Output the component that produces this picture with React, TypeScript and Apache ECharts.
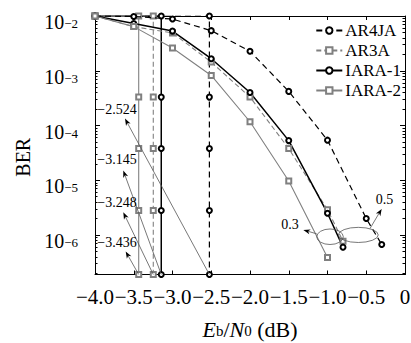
import React, { useEffect, useRef } from "react";
import * as echarts from "echarts";

const FONT = "'Liberation Serif', 'Times New Roman', serif";

// axis ranges
const xMin = -4.0;
const xMax = 0;
const xStep = 0.5;
const berMin = 1.9e-7;
const berMax = 1e-2;

// simulated curves
const ar4jaSnr = [-4.0, -3.5, -3.0, -2.5, -2.0, -1.5, -1.0, -0.5, -0.3];
const ar4jaBer = [1.0e-2, 9.8e-3, 8.8e-3, 5.4e-3, 2.27e-3, 4.2e-4, 5.4e-5, 2.0e-6, 6.7e-7];
const ar3aSnr = [-4.0, -3.5, -3.0, -2.5, -2.0, -1.5, -1.0, -0.8];
const ar3aBer = [1.0e-2, 6.4e-3, 4.9e-3, 1.44e-3, 3.3e-4, 3.8e-5, 2.9e-6, 7.7e-7];
const iara1Snr = [-4.0, -3.5, -3.0, -2.5, -2.0, -1.5, -1.0, -0.8];
const iara1Ber = [1.0e-2, 7.3e-3, 5.3e-3, 1.66e-3, 4.0e-4, 5.3e-5, 2.5e-6, 6.0e-7];
const iara2Snr = [-4.0, -3.5, -3.0, -2.5, -2.0, -1.5, -1.0];
const iara2Ber = [1.0e-2, 6.4e-3, 2.6e-3, 8.2e-4, 1.17e-4, 9.7e-6, 3.9e-7];

// thresholds (order: AR4JA, IARA-1, AR3A, IARA-2)
const thresholds = [-2.524, -3.145, -3.248, -3.436];
const thresholdMarkBer = [1e-2, 3.3e-4, 3.8e-5, 2.8e-6];
const thrLabelSnr = [-3.97, -3.97, -3.97, -3.97];
const thrLabelBer = [1.95e-4, 2.37e-5, 4.0e-6, 7.3e-7];
const thrHeadSnr = [-3.613, -3.635, -3.635, -3.604];
const thrHeadBer = [1.34e-4, 1.5e-5, 2.6e-6, 5.0e-7];

// rate annotations
const rateLabels = ["0.3", "0.5"];
const rateEllLeft = [-1.139, -0.861];
const rateEllRight = [-0.796, -0.345];
const rateEllLow = [6.7e-7, 7.3e-7];
const rateEllHigh = [1.29e-6, 1.38e-6];
const rateFromSnr = [-1.139, -0.452];
const rateFromBer = [1.05e-6, 1.31e-6];
const rateToSnr = [-1.312, -0.301];
const rateToBer = [1.24e-6, 3.0e-6];
const rateLabelSnr = [-1.484, -0.265];
const rateLabelBer = [1.55e-6, 4.5e-6];

const names = ["AR4JA", "AR3A", "IARA-1", "IARA-2"];
const BLACK = "#000000";
const GRAY = "#808080";

const fmtMinus = (s: string) => s.replace("-", "\u2212");

function lineSeries(name: string, xs: number[], ys: number[], color: string, dash: any, width: number, symbol: string) {
  return {
    name,
    type: "line",
    data: xs.map((x, i) => [x, ys[i]]),
    symbol,
    symbolSize: 5,
    showSymbol: true,
    lineStyle: { color, width, type: dash },
    itemStyle: { color, borderColor: color, borderWidth: 0.9 },
    emphasis: { disabled: true },
    silent: true,
    z: 3,
  };
}

function thresholdSeries(name: string, t: number, color: string, dash: any, width: number, symbol: string) {
  const pts: number[][] = [[xMin, thresholdMarkBer[0]]];
  thresholdMarkBer.forEach((b) => pts.push([t, b]));
  pts.push([t, berMin]);
  return {
    name,
    type: "line",
    data: pts,
    symbol,
    symbolSize: 5,
    showSymbol: true,
    lineStyle: { color, width, type: dash },
    itemStyle: { color, borderColor: color, borderWidth: 0.9 },
    emphasis: { disabled: true },
    silent: true,
    z: 2,
  };
}

function arrow(p0: number[], p1: number[]) {
  const dx = p1[0] - p0[0];
  const dy = p1[1] - p0[1];
  const len = Math.hypot(dx, dy) || 1;
  const ux = dx / len;
  const uy = dy / len;
  const hl = 7;
  const hw = 2.6;
  const bx = p1[0] - ux * hl;
  const by = p1[1] - uy * hl;
  return [
    { type: "line", shape: { x1: p0[0], y1: p0[1], x2: bx + ux * 2, y2: by + uy * 2 }, style: { stroke: "#555", lineWidth: 0.8 } },
    {
      type: "polygon",
      shape: { points: [[p1[0], p1[1]], [bx - uy * hw, by + ux * hw], [bx + ux * 2, by + uy * 2], [bx + uy * hw, by - ux * hw]] },
      style: { fill: "#000" },
    },
  ];
}

const option: any = {
  animation: false,
  backgroundColor: "#fff",
  grid: { left: 95, right: 6, top: 16, bottom: 68.5, containLabel: false, outerBoundsMode: "none" },
  legend: {
    data: names,
    orient: "vertical",
    right: 10,
    top: 22,
    padding: 0,
    itemGap: 3,
    itemWidth: 26,
    itemHeight: 8,
    selectedMode: false,
    textStyle: { fontFamily: FONT, fontSize: 17, color: "#000", padding: [0, 0, 0, -2] },
  },
  xAxis: [
    {
      type: "value",
      min: xMin,
      max: xMax,
      interval: xStep,
      position: "bottom",
      name: "{i|E}{sub|b}{r|/}{i|N}{sub|0}{r| (dB)}",
      nameLocation: "middle",
      nameGap: 46,
      nameMoveOverlap: false,
      nameTextStyle: {
        rich: {
          i: { fontFamily: FONT, fontSize: 22, fontStyle: "italic", color: "#000", lineHeight: 18 },
          r: { fontFamily: FONT, fontSize: 22, color: "#000", lineHeight: 18 },
          sub: { fontFamily: FONT, fontSize: 15, color: "#000", lineHeight: 12, verticalAlign: "bottom" },
        },
      },
      axisLine: { show: true, onZero: false, lineStyle: { color: "#000", width: 1 } },
      axisTick: { show: true, inside: true, length: 4, lineStyle: { color: "#000" } },
      axisLabel: {
        show: true,
        margin: 12,
        fontFamily: FONT,
        fontSize: 21,
        color: "#000",
        hideOverlap: false,
        formatter: (v: number) => (Math.abs(v) < 1e-9 ? "0" : fmtMinus(v.toFixed(1))),
      },
      splitLine: { show: false },
    },
    {
      type: "value",
      min: xMin,
      max: xMax,
      interval: xStep,
      position: "top",
      axisLine: { show: true, onZero: false, lineStyle: { color: "#000", width: 1 } },
      axisTick: { show: true, inside: true, length: 4, lineStyle: { color: "#000" } },
      axisLabel: { show: false },
      splitLine: { show: false },
    },
  ],
  yAxis: [
    {
      type: "log",
      logBase: 10,
      min: berMin,
      max: berMax,
      position: "left",
      name: "BER",
      nameLocation: "middle",
      nameGap: 62,
      nameMoveOverlap: false,
      nameTextStyle: { fontFamily: FONT, fontSize: 20, color: "#000", padding: [0, 24, 0, 0] },
      axisLine: { show: true, onZero: false, lineStyle: { color: "#000", width: 1 } },
      axisTick: { show: true, inside: true, length: 5, lineStyle: { color: "#000" } },
      minorTick: { show: true, splitNumber: 9, length: 2.5, lineStyle: { color: "#000" } },
      axisLabel: {
        show: true,
        margin: 17,
        showMinLabel: false,
        formatter: (v: number) => {
          const e = Math.round(Math.log10(v));
          if (Math.abs(Math.log10(v) - e) > 1e-6) return "";
          return "{b|10}{s|" + fmtMinus(String(e)) + "}";
        },
        rich: {
          b: { fontFamily: FONT, fontSize: 20, color: "#000", lineHeight: 22, padding: [12, 0, 0, 0] },
          s: { fontFamily: FONT, fontSize: 13, color: "#000", lineHeight: 12, padding: [12, 0, 0, 0], verticalAlign: "top" },
        },
      },
      splitLine: { show: false },
    },
    {
      type: "log",
      logBase: 10,
      min: berMin,
      max: berMax,
      position: "right",
      axisLine: { show: true, onZero: false, lineStyle: { color: "#000", width: 1 } },
      axisTick: { show: true, inside: true, length: 5, lineStyle: { color: "#000" } },
      minorTick: { show: true, splitNumber: 9, length: 2.5, lineStyle: { color: "#000" } },
      axisLabel: { show: false },
      splitLine: { show: false },
    },
  ],
  series: [
    lineSeries(names[0], ar4jaSnr, ar4jaBer, BLACK, [6, 4], 1.2, "emptyCircle"),
    lineSeries(names[1], ar3aSnr, ar3aBer, GRAY, [5, 3], 1.1, "emptyRect"),
    lineSeries(names[2], iara1Snr, iara1Ber, BLACK, "solid", 1.5, "emptyCircle"),
    lineSeries(names[3], iara2Snr, iara2Ber, GRAY, "solid", 1.1, "emptyRect"),
    thresholdSeries("AR4JA threshold", thresholds[0], BLACK, [6, 4], 1.2, "emptyCircle"),
    thresholdSeries("IARA-1 threshold", thresholds[1], BLACK, "solid", 1.5, "emptyCircle"),
    thresholdSeries("AR3A threshold", thresholds[2], GRAY, [5, 3], 1.1, "emptyRect"),
    thresholdSeries("IARA-2 threshold", thresholds[3], GRAY, "solid", 1.1, "emptyRect"),
    {
      name: "threshold notes",
      type: "custom",
      silent: true,
      z: 5,
      data: thresholds.map((t, i) => [t, berMin, thrHeadSnr[i], thrHeadBer[i]]),
      encode: { x: [0, 2], y: [1, 3] },
      renderItem: (params: any, api: any) => {
        const i = params.dataIndex;
        const p0 = api.coord([api.value(0), api.value(1)]);
        const p1 = api.coord([api.value(2), api.value(3)]);
        const pl = api.coord([thrLabelSnr[i], thrLabelBer[i]]);
        return {
          type: "group",
          children: [
            ...arrow(p0, p1),
            {
              type: "text",
              x: pl[0],
              y: pl[1],
              style: {
                text: fmtMinus(thresholds[i].toFixed(3)),
                font: "14px " + FONT,
                fill: "#000",
                align: "left",
                verticalAlign: "middle",
              },
            },
          ],
        };
      },
    },
    {
      name: "rate notes",
      type: "custom",
      silent: true,
      z: 5,
      data: rateLabels.map((_, i) => [rateFromSnr[i], rateFromBer[i], rateToSnr[i], rateToBer[i]]),
      encode: { x: [0, 2], y: [1, 3] },
      renderItem: (params: any, api: any) => {
        const i = params.dataIndex;
        const a = api.coord([rateEllLeft[i], rateEllHigh[i]]);
        const b = api.coord([rateEllRight[i], rateEllLow[i]]);
        const cx = (a[0] + b[0]) / 2;
        const cy = (a[1] + b[1]) / 2;
        const rx = Math.abs(b[0] - a[0]) / 2;
        const ry = Math.abs(b[1] - a[1]) / 2;
        const d = `M ${cx - rx} ${cy} A ${rx} ${ry} 0 1 0 ${cx + rx} ${cy} A ${rx} ${ry} 0 1 0 ${cx - rx} ${cy} Z`;
        const p0 = api.coord([api.value(0), api.value(1)]);
        const p1 = api.coord([api.value(2), api.value(3)]);
        const pl = api.coord([rateLabelSnr[i], rateLabelBer[i]]);
        return {
          type: "group",
          children: [
            { type: "path", shape: { pathData: d }, style: { stroke: "#555", lineWidth: 0.8, fill: "none" } },
            ...arrow(p0, p1),
            {
              type: "text",
              x: pl[0],
              y: pl[1],
              style: {
                text: rateLabels[i],
                font: "14px " + FONT,
                fill: "#000",
                align: "center",
                verticalAlign: "middle",
              },
            },
          ],
        };
      },
    },
  ],
};

export default function App() {
  const ref = useRef<HTMLDivElement>(null);
  useEffect(() => {
    if (!ref.current) return;
    const chart = echarts.init(ref.current, null, { renderer: "svg" });
    chart.setOption(option);
    return () => chart.dispose();
  }, []);
  return (
    <div
      ref={ref}
      style={{ position: "fixed", left: 0, top: 0, width: 411, height: 343, background: "#fff" }}
    />
  );
}
